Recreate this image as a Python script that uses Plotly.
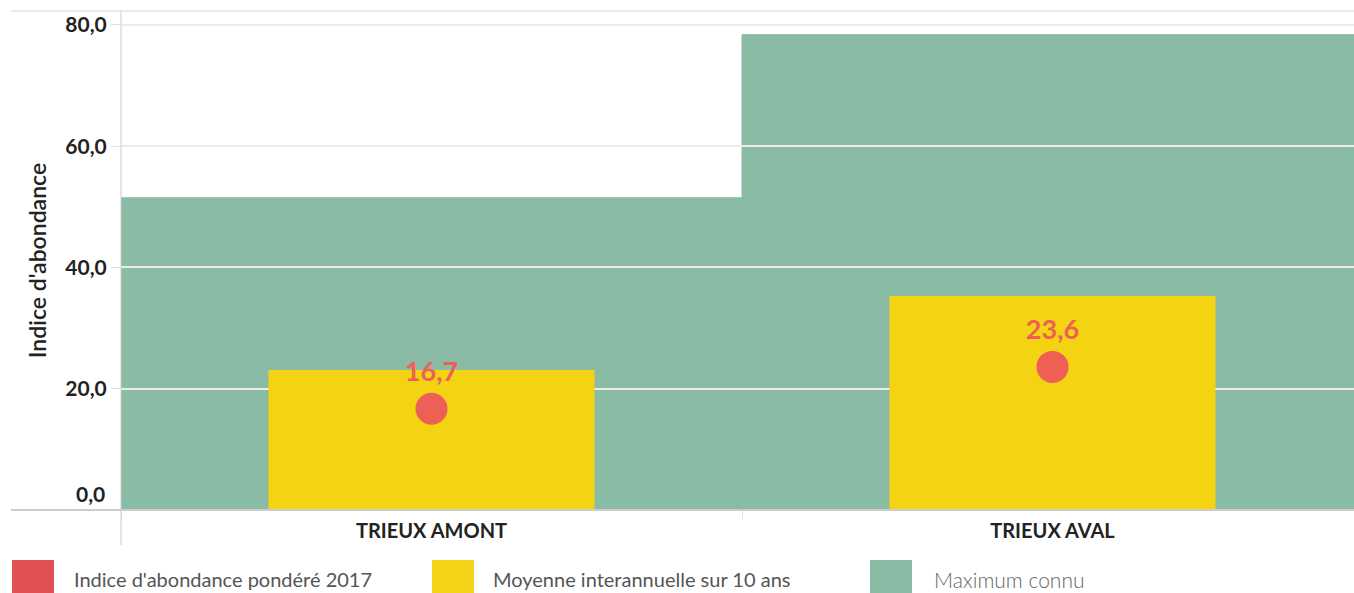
import plotly.graph_objects as go

# ---- data ----
categories = ["TRIEUX AMONT", "TRIEUX AVAL"]
maximum_connu = [51.5, 78.4]
moyenne_10ans = [23.1, 35.3]
indice_2017 = [16.7, 23.6]
series_names = ["Indice d'abondance pondéré 2017",
                "Moyenne interannuelle sur 10 ans",
                "Maximum connu"]
y_ticks = [0, 20, 40, 60, 80]

# ---- style ----
W, H = 1363, 593          # plot area runs slightly past the 1354px window
L, R, T, B = 121, 0, 11, 83
PW, PH = W - L - R, H - T - B
Y_MAX = 82.3
GREEN = "#8abca5"
YELLOW = "#f4d313"
RED = "#ee5f55"
LEGEND_COLORS = ["#e15052", "#f4d419", "#8abca5"]
FONT = "Lato"


def px_x(px):
    return (px - L) / PW


def px_y(py):
    return (H - B - py) / PH


def fmt(v):
    return f"{v:.1f}".replace(".", ",")


fig = go.Figure()

# layer 1: maximum connu (full category width)
fig.add_trace(go.Bar(
    x=categories, y=maximum_connu, width=1.0, name=series_names[2],
    marker=dict(color=GREEN, line=dict(width=1, color=GREEN)),
    xaxis="x", yaxis="y", showlegend=False, hoverinfo="x+y",
))

# layer 2 (subplot drawn on top, with its own grid): moyenne + indice
fig.add_trace(go.Bar(
    x=categories, y=moyenne_10ans, width=0.525, name=series_names[1],
    marker=dict(color=YELLOW, line=dict(width=0)),
    xaxis="x2", yaxis="y2", showlegend=False, hoverinfo="x+y",
))
fig.add_trace(go.Scatter(
    x=categories, y=indice_2017, name=series_names[0], mode="markers+text",
    marker=dict(color=RED, size=32, line=dict(width=0)),
    texttemplate="%{y:.1f}", textposition="top center",
    textfont=dict(family=FONT, size=27, color=RED, weight="bold"),
    xaxis="x2", yaxis="y2", showlegend=False, cliponaxis=False,
))

axis_common = dict(range=[0, Y_MAX], fixedrange=True)
tick_font = dict(family=FONT, size=21, color="#222", weight="bold")

fig.update_layout(
    width=W, height=H,
    margin=dict(l=L, r=R, t=T, b=B, pad=0),
    paper_bgcolor="white",
    plot_bgcolor="rgba(0,0,0,0)",
    separators=",.",
    font=dict(family=FONT, color="#222"),
    showlegend=False,
    xaxis=dict(type="category", categoryarray=categories, range=[-0.5, 1.5],
               showticklabels=False, showgrid=False, showline=False,
               zeroline=False, ticks="", fixedrange=True),
    yaxis=dict(**axis_common, showticklabels=False, showgrid=False,
               zeroline=False, showline=False, ticks=""),
    xaxis2=dict(type="category", categoryarray=categories, range=[-0.5, 1.5],
                anchor="y2", showgrid=False, showline=False, zeroline=False,
                ticks="outside", tickson="boundaries", ticklen=8,
                tickcolor="#e0e0e0", tickwidth=1, ticklabelstandoff=7,
                fixedrange=True,
                tickfont=dict(family=FONT, size=20, color="#222", weight="bold")),
    yaxis2=dict(**axis_common, anchor="x2", tickvals=y_ticks,
                ticktext=[("" if v == y_ticks[0] else fmt(v)) for v in y_ticks],
                showgrid=True, gridcolor="#ececec",
                gridwidth=1.5, zeroline=False, showline=False,
                ticks="outside", ticklen=9, tickcolor="#e0e0e0",
                ticklabelstandoff=0,
                tickfont=tick_font,
                title=dict(text="Indice d'abondance", standoff=12,
                           font=dict(family=FONT, size=23, color="#222",
                                     weight=600))),
)

# bottom tick label sits just above the axis line (as in the reference)
fig.add_annotation(xref="paper", yref="y2", x=px_x(107), y=y_ticks[0],
                   xanchor="right", yanchor="bottom", yshift=2,
                   showarrow=False, text=fmt(y_ticks[0]), font=tick_font)

# frame lines (top border, x axis line, y axis line)
line_col = "#cccccc"
fig.add_shape(type="line", xref="paper", yref="paper", layer="above",
              x0=px_x(11), x1=px_x(W), y0=px_y(11), y1=px_y(11),
              line=dict(color="#d6d6d6", width=1))
fig.add_shape(type="line", xref="paper", yref="paper", layer="above",
              x0=px_x(11), x1=px_x(W), y0=px_y(510), y1=px_y(510),
              line=dict(color=line_col, width=2))
fig.add_shape(type="line", xref="paper", yref="paper", layer="above",
              x0=px_x(121), x1=px_x(121), y0=px_y(11), y1=px_y(545),
              line=dict(color=line_col, width=1))

# legend (large swatches) built from series names/colours
swatch_left = [12, 432, 870]
text_left = [72, 491, 932]
legend_font = [dict(size=20, color="#555"), dict(size=20, color="#555"),
               dict(size=21, color="#666", weight=300)]
for name, col, sx, tx, lf in zip(series_names, LEGEND_COLORS, swatch_left,
                                 text_left, legend_font):
    fig.add_shape(type="rect", xref="paper", yref="paper", layer="above",
                  x0=px_x(sx), x1=px_x(sx + 42), y0=px_y(593), y1=px_y(560),
                  fillcolor=col, line=dict(width=0))
    fig.add_annotation(xref="paper", yref="paper", x=px_x(tx), y=px_y(579),
                       xanchor="left", yanchor="middle", showarrow=False,
                       text=name, font=dict(family=FONT, **lf))

fig.write_html("out.html",
               config={"displayModeBar": False},
               post_script="document.body.style.margin='0';"
                           "document.body.style.overflow='hidden';")
